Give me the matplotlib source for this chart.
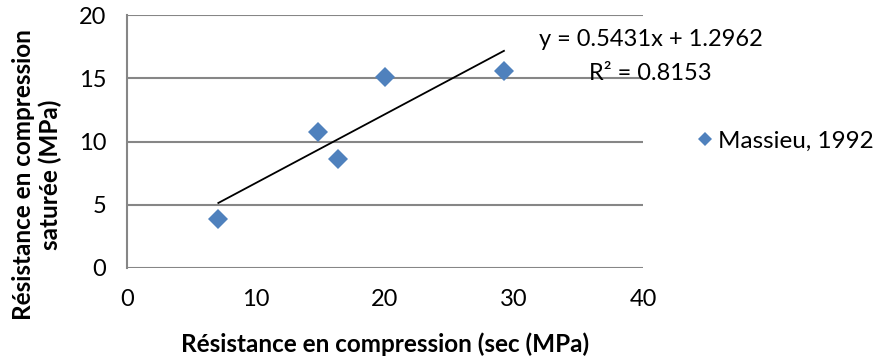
import matplotlib.pyplot as plt
import numpy as np

plt.rcParams['font.family'] = ['Lato', 'DejaVu Sans']

# données
sec = [7.08, 14.78, 16.38, 20.0, 29.22]
sature = [3.87, 10.77, 8.59, 15.07, 15.6]
serie = 'Massieu, 1992'
pente = 0.5431
ordonnee = 1.2962
r2 = 0.8153

x_ticks = [0, 10, 20, 30, 40]
y_ticks = [0, 5, 10, 15, 20]

fig = plt.figure(figsize=(8.78, 3.63), dpi=100)
ax = fig.add_axes([127 / 878, 1 - 268 / 363, 516 / 878, 253 / 363])

ax.plot(sec, sature, 'D', color='#4F81BD', markersize=10, markeredgewidth=0,
        label=serie, zorder=3)

# courbe de tendance linéaire
x_fit = np.array([min(sec), max(sec)])
ax.plot(x_fit, pente * x_fit + ordonnee, color='black', lw=1.3, zorder=2)

ax.text(651 / 878, 1 - 40 / 363, f'y = {pente}x + {ordonnee}', transform=fig.transFigure,
        ha='center', va='center', fontsize=17)
ax.text(650 / 878, 1 - 73 / 363, f'R² = {r2}', transform=fig.transFigure,
        ha='center', va='center', fontsize=17)

ax.set_xlim(0, 40)
ax.set_ylim(0, 20)
ax.set_xticks(x_ticks)
ax.set_yticks(y_ticks)
ax.tick_params(length=0, labelsize=17, pad=15)
ax.yaxis.grid(True, color='#868686', lw=1.5)
ax.set_axisbelow(True)
for s in ['top', 'right', 'bottom']:
    ax.spines[s].set_visible(False)
ax.spines['left'].set_color('#868686')
ax.spines['left'].set_linewidth(1.5)

ax.set_xlabel('Résistance en compression (sec (MPa)', fontsize=17.5, fontweight='bold')
ax.xaxis.set_label_coords(0.5, -0.255)
ax.set_ylabel('Résistance en compression\nsaturée (MPa)', fontsize=17.5, fontweight='bold')
ax.yaxis.set_label_coords(-0.125, 0.37)

ax.legend(loc='center left', bbox_to_anchor=(1.055, 0.5), frameon=False, fontsize=17.5,
          handletextpad=0.0, handlelength=1.0, markerscale=0.75)

fig.savefig('out.png', dpi=100)
